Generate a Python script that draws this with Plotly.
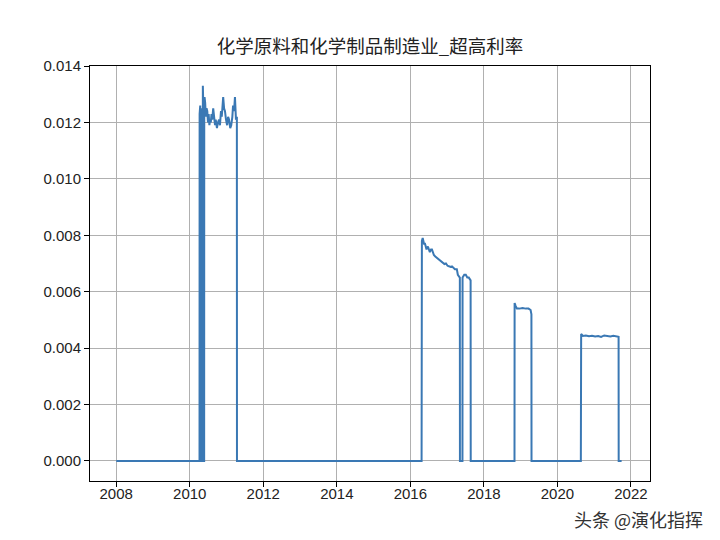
import plotly.graph_objects as go

title_text = "化学原料和化学制品制造业_超高利率"
watermark = "头条 @演化指挥"

dates = [
    "2008-01-02", "2010-04-08",
    "2010-04-09", "2010-04-15", "2010-04-16", "2010-04-26",
    "2010-04-27", "2010-05-04", "2010-05-05", "2010-05-10",
    "2010-05-11", "2010-05-14", "2010-05-18", "2010-05-19", "2010-05-24",
    "2010-05-25", "2010-05-28", "2010-06-03", "2010-06-10", "2010-06-17",
    "2010-06-24", "2010-07-01", "2010-07-08", "2010-07-15", "2010-07-22",
    "2010-07-29", "2010-08-05", "2010-08-12", "2010-08-22", "2010-08-29",
    "2010-09-09", "2010-09-16", "2010-09-28", "2010-10-08", "2010-10-19",
    "2010-10-28", "2010-11-07", "2010-11-15", "2010-11-29", "2010-12-08",
    "2010-12-17", "2010-12-27", "2011-01-07", "2011-01-17", "2011-01-26",
    "2011-02-07", "2011-02-17", "2011-02-28", "2011-03-07", "2011-03-17",
    "2011-03-26", "2011-04-05", "2011-04-14", "2011-04-15",
    "2016-04-22",
    "2016-04-25", "2016-05-03", "2016-05-16", "2016-05-26", "2016-06-10",
    "2016-06-24", "2016-07-13", "2016-07-25", "2016-08-03", "2016-08-22",
    "2016-09-05", "2016-09-21", "2016-10-08", "2016-10-21", "2016-11-05",
    "2016-11-20", "2016-12-05", "2016-12-20", "2017-01-05", "2017-01-19",
    "2017-02-05", "2017-02-18", "2017-03-05", "2017-03-19", "2017-04-07",
    "2017-04-17", "2017-05-07", "2017-05-08",
    "2017-06-02", "2017-06-03", "2017-06-20", "2017-07-05", "2017-07-20",
    "2017-08-04", "2017-08-22", "2017-08-23",
    "2018-11-01",
    "2018-11-02", "2018-11-12", "2018-11-25", "2018-12-20", "2019-01-20",
    "2019-02-20", "2019-03-20", "2019-04-10", "2019-04-18", "2019-04-19",
    "2020-08-21",
    "2020-08-24", "2020-09-10", "2020-10-10", "2020-11-10", "2020-12-10",
    "2021-01-10", "2021-02-10", "2021-03-10", "2021-04-10", "2021-05-10",
    "2021-06-10", "2021-07-10", "2021-08-10", "2021-08-31", "2021-09-01",
    "2021-09-30",
]

rates = [
    0.0, 0.0,
    0.0123, 0.0126, 0.0, 0.0,
    0.0125, 0.0121, 0.0, 0.0,
    0.0133, 0.0127, 0.0122, 0.0, 0.0,
    0.0124, 0.0129, 0.0127, 0.0122, 0.0125,
    0.0124, 0.0120, 0.0123, 0.0119, 0.0121,
    0.0120, 0.0123, 0.0121, 0.0125, 0.0122,
    0.0119, 0.0121, 0.0118, 0.0120, 0.0121,
    0.0119, 0.0124, 0.0122, 0.0129, 0.0125,
    0.0124, 0.0121, 0.0119, 0.0122, 0.0121,
    0.0118, 0.0119, 0.0122, 0.0126, 0.0124,
    0.0129, 0.0121, 0.0122, 0.0,
    0.0,
    0.0078, 0.0079, 0.0077, 0.0077, 0.0075,
    0.0076, 0.0074, 0.0075, 0.0075, 0.0073,
    0.00725, 0.0072, 0.00715, 0.0071, 0.00705,
    0.0070, 0.00698, 0.0070, 0.00692, 0.0069,
    0.00688, 0.0069, 0.00683, 0.0068, 0.0068,
    0.0066, 0.0065, 0.0,
    0.0, 0.0065, 0.0066, 0.0066, 0.0065,
    0.0065, 0.0064, 0.0,
    0.0,
    0.0056, 0.0055, 0.0054, 0.0054, 0.00542,
    0.0054, 0.0054, 0.00535, 0.0052, 0.0,
    0.0,
    0.0045, 0.00443, 0.00445, 0.00442, 0.00444,
    0.00441, 0.00443, 0.0044, 0.00445, 0.00442,
    0.00441, 0.00444, 0.0044, 0.0044, 0.0,
    0.0,
]

y_ticks = [0.0, 0.002, 0.004, 0.006, 0.008, 0.010, 0.012, 0.014]

W, H = 720, 540
ML, MR, MT, MB = 82, 78, 58, 67
plot_w = W - ML - MR
plot_h = H - MT - MB

fig = go.Figure()
fig.add_trace(go.Scatter(
    x=dates, y=rates, mode="lines",
    line=dict(color="#3a78b4", width=2),
    showlegend=False,
))

axis_common = dict(
    showline=True, linecolor="black", linewidth=1, mirror=True,
    showgrid=True, gridcolor="#b0b0b0", gridwidth=1,
    ticks="outside", ticklen=5, tickcolor="black",
    zeroline=False,
    tickfont=dict(family="Liberation Sans, Arial, sans-serif", size=15, color="#222"),
)

fig.update_layout(
    width=W, height=H,
    paper_bgcolor="white", plot_bgcolor="white",
    margin=dict(l=ML, r=MR, t=MT, b=MB),
    title=dict(text=title_text, x=0.5, xref="paper", xanchor="center",
               y=(H - 39) / H, yref="container", yanchor="middle",
               font=dict(family="Noto Sans CJK SC", size=18.5, color="#222")),
    xaxis=dict(
        type="date", range=["2007-04-16", "2022-07-09"],
        tick0="2008-01-01", dtick="M24", tickformat="%Y",
        ticklabelstandoff=-6,
        **axis_common,
    ),
    yaxis=dict(
        range=[-0.00071, 0.014], tickvals=y_ticks,
        tickformat=".3f",
        **axis_common,
    ),
    annotations=[dict(
        text=watermark, x=(697 - ML) / plot_w, y=(H - MB - 511) / plot_h,
        xref="paper", yref="paper",
        showarrow=False, xanchor="right", yanchor="middle",
        font=dict(family="Noto Sans CJK SC", size=18, color="#333"),
    )],
)

fig.write_html("out.html")
